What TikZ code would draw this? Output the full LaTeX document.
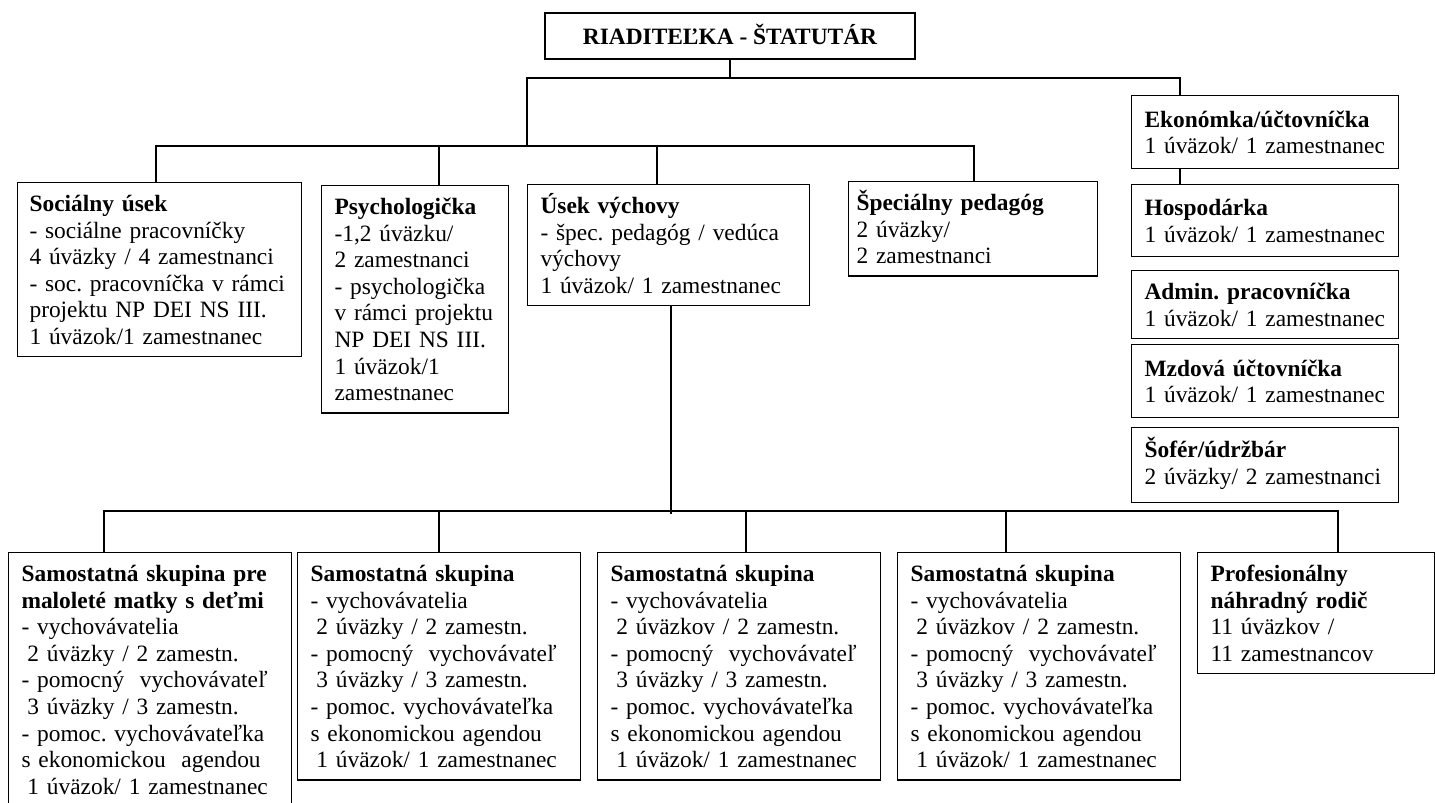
\documentclass[tikz,border=0pt]{standalone}
\usepackage{fontspec}
\setmainfont{Liberation Serif}
\newcommand{\orgfont}{\fontsize{23.4pt}{26.6pt}\selectfont\frenchspacing}
\newcommand{\unithead}[1]{\raisebox{0pt}[17pt]{\textbf{#1}}}
\newcommand{\lsp}{\hspace*{0.25em}}
\tikzset{
  BaseNode/.style = {draw=black, line width=1.1pt, anchor=north west, align=left, inner xsep=13pt, inner ysep=12pt, font=\orgfont},
  RootNode/.style = {BaseNode, anchor=center, align=center, minimum width=370pt, minimum height=46pt, text height=16pt, text depth=0pt, font=\orgfont\bfseries},
  UnitNode/.style = {BaseNode, text width=#1},
  StaffNode/.style = {BaseNode, text width=241pt, minimum height=73pt},
  GroupNode/.style = {BaseNode, text width=257pt},
  Link/.style = {draw=black, line width=1.1pt},
}

\begin{document}
\begin{tikzpicture}[x=1pt, y=-1pt]
\useasboundingbox (0,0) rectangle (1435,803);

% director
\node [RootNode] (head) at (730,36) {RIADITEĽKA - ŠTATUTÁR};

% first level
\node [UnitNode=260pt, inner xsep=12pt] (social) at (17,182) {\unithead{Sociálny úsek}\\
  - sociálne pracovníčky\\
  4 úväzky / 4 zamestnanci\\
  - soc. pracovníčka v rámci\\
  projektu NP DEI NS III.\\
  1 úväzok/1 zamestnanec};
\node [UnitNode=161pt] (psych) at (321,185) {\unithead{Psychologička}\\
  -1,2 úväzku/\\
  2 zamestnanci\\
  - psychologička\\
  v rámci projektu\\
  NP DEI NS III.\\
  1 úväzok/1\\
  zamestnanec};
\node [UnitNode=256pt] (usek) at (527,184) {\unithead{Úsek výchovy}\\
  - špec. pedagóg / vedúca\\
  výchovy\\
  1 úväzok/ 1 zamestnanec};
\node [UnitNode=233pt, inner xsep=8pt] (spec) at (848,181) {\unithead{Špeciálny pedagóg}\\
  2 úväzky/\\
  2 zamestnanci};

% staff column
\node [StaffNode] (ekon) at (1131,95) {\unithead{Ekonómka/účtovníčka}\\ 1 úväzok/ 1 zamestnanec};
\node [StaffNode, minimum height=72pt] (hosp) at (1131,184) {\unithead{Hospodárka}\\ 1 úväzok/ 1 zamestnanec};
\node [StaffNode, minimum height=0pt] (admin) at (1131,270) {\unithead{Admin. pracovníčka}\\ \raisebox{0pt}[\height][-7pt]{1 úväzok/ 1 zamestnanec}};
\node [StaffNode] (mzdy) at (1131,344) {\unithead{Mzdová účtovníčka}\\ 1 úväzok/ 1 zamestnanec};
\node [StaffNode, minimum height=75pt] (sofer) at (1131,427) {\unithead{Šofér/údržbár}\\ 2 úväzky/ 2 zamestnanci};

% groups
\node [GroupNode] (grpA) at (8,552) {\unithead{Samostatná skupina pre}\\
  \textbf{maloleté matky s deťmi}\\
  - vychovávatelia\\
  \lsp 2 úväzky / 2 zamestn.\\
  - pomocný\ \ vychovávateľ\\
  \lsp 3 úväzky / 3 zamestn.\\
  - pomoc. vychovávateľka\\
  s ekonomickou\ \ agendou\\
  \lsp 1 úväzok/ 1 zamestnanec};
\node [GroupNode] (grpB) at (297,552) {\unithead{Samostatná skupina}\\
  - vychovávatelia\\
  \lsp 2 úväzky / 2 zamestn.\\
  - pomocný\ \ vychovávateľ\\
  \lsp 3 úväzky / 3 zamestn.\\
  - pomoc. vychovávateľka\\
  s ekonomickou agendou\\
  \lsp 1 úväzok/ 1 zamestnanec};
\node [GroupNode] (grpC) at (597,552) {\unithead{Samostatná skupina}\\
  - vychovávatelia\\
  \lsp 2 úväzkov / 2 zamestn.\\
  - pomocný\ \ vychovávateľ\\
  \lsp 3 úväzky / 3 zamestn.\\
  - pomoc. vychovávateľka\\
  s ekonomickou agendou\\
  \lsp 1 úväzok/ 1 zamestnanec};
\node [GroupNode] (grpD) at (897,552) {\unithead{Samostatná skupina}\\
  - vychovávatelia\\
  \lsp 2 úväzkov / 2 zamestn.\\
  - pomocný\ \ vychovávateľ\\
  \lsp 3 úväzky / 3 zamestn.\\
  - pomoc. vychovávateľka\\
  s ekonomickou agendou\\
  \lsp 1 úväzok/ 1 zamestnanec};
\node [UnitNode=211pt] (pnr) at (1197,552) {\unithead{Profesionálny}\\
  \textbf{náhradný rodič}\\
  11 úväzkov /\\
  11 zamestnancov};

% bus points
\coordinate (topL) at (527,78);
\coordinate (topR) at (1180,78);
\coordinate (midL) at (156,146);
\coordinate (midR) at (974,146);
\coordinate (psyTap) at (439,146);
\coordinate (usekTap) at (657,146);
\coordinate (busTap) at (671,514);
\coordinate (botL) at (104,511);
\coordinate (botR) at (1338,511);
\coordinate (tapB) at (439,511);
\coordinate (tapC) at (746,511);
\coordinate (tapD) at (1006,511);

% connectors
\draw [Link] (head.south) -- (head.south |- topL);
\draw [Link] (topL |- midL) |- (topR) -- (ekon.north -| topR);
\draw [Link] (ekon.south -| topR) -- (hosp.north -| topR);
\draw [Link] (social.north -| midL) |- (midR) -- (spec.north -| midR);
\draw [Link] (psyTap) -- (psyTap |- psych.north);
\draw [Link] (usekTap) -- (usekTap |- usek.north);
\draw [Link] (usek.south -| busTap) -- (busTap);
\draw [Link] (grpA.north -| botL) |- (botR) -- (pnr.north -| botR);
\draw [Link] (tapB) -- (tapB |- grpB.north);
\draw [Link] (tapC) -- (tapC |- grpC.north);
\draw [Link] (tapD) -- (tapD |- grpD.north);
\end{tikzpicture}
\end{document}
